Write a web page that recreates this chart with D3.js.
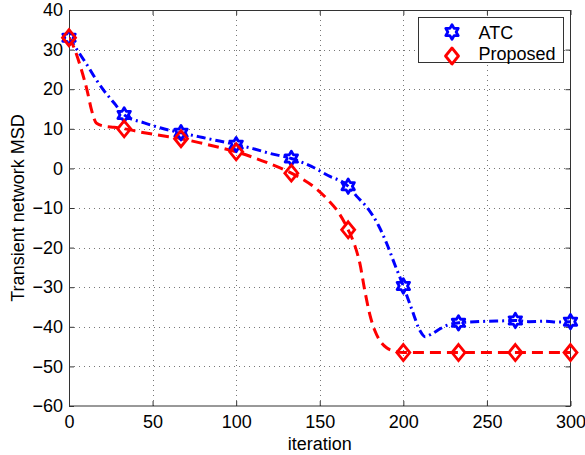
<!DOCTYPE html>
<html>
<head>
<meta charset="utf-8">
<script src="https://cdn.jsdelivr.net/npm/d3@7"></script>
<style>
  html, body { margin: 0; padding: 0; background: #fff; }
  svg { display: block; }
  text { font-family: "Liberation Sans", Arial, Helvetica, sans-serif; fill: #000; }
</style>
</head>
<body>
<svg id="chart" width="585" height="455"></svg>
<script>
// Transient network MSD per iteration, two algorithms
const atcIter = [0, 6, 11, 16, 21, 27, 33, 45, 55, 67, 80, 90, 100, 110, 120, 133, 145, 155, 167, 172, 178, 185, 190, 195, 200, 205, 210, 213, 217, 222, 227, 233, 240, 250, 260, 267, 275, 285, 293, 300];
const atcMSD  = [33, 29.2, 26, 22.6, 19.6, 16.5, 13.5, 11.5, 10.2, 9, 7.8, 6.9, 6, 5, 3.8, 2.5, 0.5, -1.8, -4.5, -7, -9.7, -14.3, -18.9, -24.4, -29.7, -35.5, -41, -42.5, -41.8, -40.5, -39.5, -39, -38.8, -38.6, -38.5, -38.4, -38.7, -38.6, -38.8, -38.7];

const propIter = [0, 3, 7, 11, 13.5, 16.5, 22, 27, 33, 45, 55, 67, 80, 90, 100, 110, 120, 133, 140, 147, 155, 161, 167, 171, 174, 177, 180, 183, 186, 190, 195, 200, 233, 267, 300];
const propMSD  = [33, 30.5, 25.5, 19.4, 14.7, 11.4, 10.6, 10.4, 10, 9, 8.3, 7.5, 6.3, 5.3, 4.2, 2.8, 1.2, -1.2, -2.8, -4.8, -8, -11, -15.5, -19.5, -24, -31, -37, -41, -43.5, -45.3, -46.2, -46.5, -46.5, -46.5, -46.5];

// Marker positions (every ~33 iterations)
const markerIter = [0, 33, 67, 100, 133, 167, 200, 233, 267, 300];
const atcMarkers  = [33, 13.5, 9, 6, 2.5, -4.5, -29.7, -39, -38.4, -38.7];
const propMarkers = [33, 10, 7.5, 4.2, -1.2, -15.5, -46.5, -46.5, -46.5, -46.5];

const xTicks = [0, 50, 100, 150, 200, 250, 300];
const yTicks = [-60, -50, -40, -30, -20, -10, 0, 10, 20, 30, 40];
const seriesNames = ["ATC", "Proposed"];

const svg = d3.select("#chart");
const L = 69, R = 570.5, T = 10, B = 406;

const x = d3.scaleLinear().domain([0, 300]).range([L, R]);
const y = d3.scaleLinear().domain([-60, 40]).range([B, T]);

const fmt = v => (v < 0 ? "\u2212" + Math.abs(v) : String(v));

// Dotted grid
const grid = svg.append("g").attr("stroke", "#777").attr("stroke-width", 1).attr("stroke-dasharray", "1,4");
grid.selectAll("line.gx").data(xTicks.slice(1, -1)).join("line")
  .attr("x1", d => Math.round(x(d)) + 0.5).attr("x2", d => Math.round(x(d)) + 0.5)
  .attr("y1", T).attr("y2", B);
grid.selectAll("line.gy").data(yTicks.slice(1, -1)).join("line")
  .attr("y1", d => Math.round(y(d)) + 0.5).attr("y2", d => Math.round(y(d)) + 0.5)
  .attr("x1", L).attr("x2", R);

// Axes with inward ticks on all four sides
const tickLen = 5;
const axisG = svg.append("g");
const bottomAxis = d3.axisBottom(x).tickValues(xTicks).tickSize(-tickLen).tickPadding(9).tickFormat(fmt);
const topAxis = d3.axisTop(x).tickValues(xTicks).tickSize(-tickLen).tickFormat("");
const leftAxis = d3.axisLeft(y).tickValues(yTicks).tickSize(-tickLen).tickPadding(6).tickFormat(fmt);
const rightAxis = d3.axisRight(y).tickValues(yTicks).tickSize(-tickLen).tickFormat("");

function styleAxis(g) {
  g.select(".domain").remove();
  g.selectAll(".tick line").attr("stroke", "#333");
  g.selectAll(".tick text").attr("font-size", 18).attr("fill", "#000")
    .style("font-family", '"Liberation Sans", Arial, Helvetica, sans-serif');
}
axisG.append("g").attr("transform", `translate(0,${B})`).call(bottomAxis).call(styleAxis);
axisG.append("g").attr("transform", `translate(0,${T})`).call(topAxis).call(styleAxis);
axisG.append("g").attr("transform", `translate(${L},0)`).call(leftAxis).call(styleAxis);
axisG.append("g").attr("transform", `translate(${R},0)`).call(rightAxis).call(styleAxis);

svg.append("rect")
  .attr("x", L + 0.5).attr("y", T + 0.5)
  .attr("width", R - L - 0.5).attr("height", B - T - 0.5)
  .attr("fill", "none").attr("stroke", "#333").attr("stroke-width", 1);

// Curves
const line = d3.line().x(d => x(d[0])).y(d => y(d[1])).curve(d3.curveMonotoneX);
svg.append("clipPath").attr("id", "plotclip").append("rect")
  .attr("x", L).attr("y", T).attr("width", R - L).attr("height", B - T);

const plot = svg.append("g").attr("clip-path", "url(#plotclip)");
plot.append("path")
  .attr("d", line(d3.zip(atcIter, atcMSD)))
  .attr("fill", "none").attr("stroke", "#0000ff").attr("stroke-width", 3)
  .attr("stroke-dasharray", "9,4,2,4");
plot.append("path")
  .attr("d", line(d3.zip(propIter, propMSD)))
  .attr("fill", "none").attr("stroke", "#ff0000").attr("stroke-width", 3)
  .attr("stroke-dasharray", "11,6");

// Marker shapes
function hexagram(r) {
  const ri = r / Math.sqrt(3);
  const pts = [];
  for (let i = 0; i < 12; i++) {
    const a = -Math.PI / 2 + i * Math.PI / 6;
    const rr = i % 2 === 0 ? r : ri;
    pts.push([rr * Math.cos(a), rr * Math.sin(a)]);
  }
  return "M" + pts.map(p => p[0].toFixed(2) + "," + p[1].toFixed(2)).join("L") + "Z";
}
function diamond(hw, hh) {
  return `M0,${-hh}L${hw},0L0,${hh}L${-hw},0Z`;
}
const starPath = hexagram(7.2);
const diamondPath = diamond(6.5, 8);

const mk = svg.append("g");
mk.selectAll("path.atc").data(d3.zip(markerIter, atcMarkers)).join("path")
  .attr("class", "atc")
  .attr("transform", d => `translate(${x(d[0])},${y(d[1])})`)
  .attr("d", starPath)
  .attr("fill", "none").attr("stroke", "#0000ff").attr("stroke-width", 2.8)
  .attr("stroke-linejoin", "round");
mk.selectAll("path.prop").data(d3.zip(markerIter, propMarkers)).join("path")
  .attr("class", "prop")
  .attr("transform", d => `translate(${x(d[0])},${y(d[1])})`)
  .attr("d", diamondPath)
  .attr("fill", "none").attr("stroke", "#ff0000").attr("stroke-width", 2.8);

// Axis titles
svg.append("text").attr("x", (L + R) / 2).attr("y", 450)
  .attr("text-anchor", "middle").attr("font-size", 18).text("iteration");
svg.append("text")
  .attr("transform", `translate(24,${(T + B) / 2}) rotate(-90)`)
  .attr("text-anchor", "middle").attr("font-size", 18).text("Transient network MSD");

// Legend
const lg = svg.append("g");
lg.append("rect").attr("x", 418.5).attr("y", 17.5).attr("width", 145).attr("height", 45)
  .attr("fill", "#fff").attr("stroke", "#333").attr("stroke-width", 1);
const legendRows = [
  { name: seriesNames[0], path: starPath, color: "#0000ff", cy: 32, base: 38.5 },
  { name: seriesNames[1], path: diamondPath, color: "#ff0000", cy: 56, base: 60 }
];
legendRows.forEach(r => {
  lg.append("path").attr("transform", `translate(452,${r.cy})`).attr("d", r.path)
    .attr("fill", "none").attr("stroke", r.color).attr("stroke-width", 2.8)
    .attr("stroke-linejoin", "round");
  lg.append("text").attr("x", 478.5).attr("y", r.base).attr("font-size", 18).text(r.name);
});
</script>
</body>
</html>
